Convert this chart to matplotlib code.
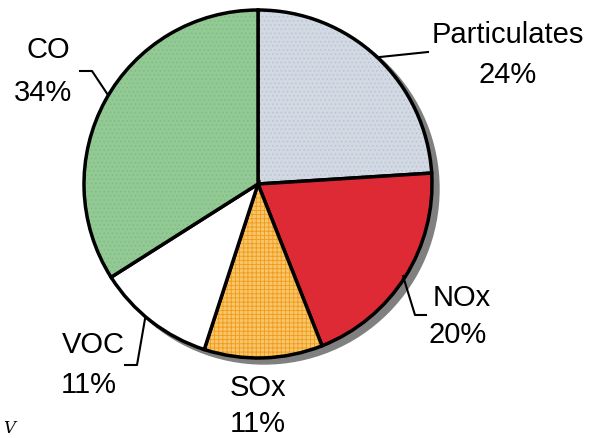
import numpy as np
import matplotlib
matplotlib.use('Agg')
import matplotlib.pyplot as plt
from matplotlib.patches import Circle

labels = ['Particulates', 'NOx', 'SOx', 'VOC', 'CO']
shares = [24, 20, 11, 11, 34]
pct_text = ['24%', '20%', '11%', '11%', '34%']
colors = ['#d3d9e2', '#dd2a35', '#f7c56a', '#ffffff', '#93c994']
hatches = ['....', None, '++++', None, '....']
hatch_cols = ['#b8c4d6', None, '#f29a1a', None, '#7fbd80']

plt.rcParams['font.family'] = ['Liberation Sans', 'DejaVu Sans']
plt.rcParams['hatch.linewidth'] = 0.6

W, H = 597, 439
fig = plt.figure(figsize=(W / 100, H / 100), dpi=100)
ax = fig.add_axes([0, 0, 1, 1])

cx, cy, r = 258, H - 185, 174

# drop shadow
ax.add_patch(Circle((cx + 6, cy - 5), r + 1, color='#808080', zorder=1))

wedges, _ = ax.pie(shares, colors=colors, startangle=90, counterclock=False,
                   center=(cx, cy), radius=r, frame=True,
                   wedgeprops=dict(edgecolor='black', linewidth=2.5, zorder=2))
for w, h, hc in zip(wedges, hatches, hatch_cols):
    if h:
        w.set_hatch(h)
        w._hatch_color = matplotlib.colors.to_rgba(hc)
ax.set_xlim(0, W)
ax.set_ylim(0, H)
ax.set_aspect('equal')
ax.axis('off')

fs = 21
# label positions in pixels from top: (x name, y name, x pct, y pct)
pos = {
    'Particulates': (508, 35, 508, 75),
    'NOx': (462, 298, 458, 335),
    'SOx': (258, 388, 258, 424),
    'VOC': (93, 345, 89, 385),
    'CO': (48, 50, 43, 93),
}
for name, pct in zip(labels, pct_text):
    x1, y1, x2, y2 = pos[name]
    ax.text(x1, H - y1, name, ha='center', va='center', fontsize=fs)
    ax.text(x2, H - y2, pct, ha='center', va='center', fontsize=fs)

# leader lines
ax.plot([380, 428], [H - 58, H - 53], color='black', lw=1.5)
ax.plot([80, 92, 108], [H - 72, H - 72, H - 96], color='black', lw=1.5)
ax.plot([403, 415, 426], [H - 277, H - 316, H - 316], color='black', lw=1.5)
ax.plot([145, 137, 125], [H - 320, H - 366, H - 366], color='black', lw=1.5)

ax.text(3, H - 429, 'V', fontsize=12, style='italic', family='DejaVu Serif',
        va='center')

fig.savefig('out.png', dpi=100)
